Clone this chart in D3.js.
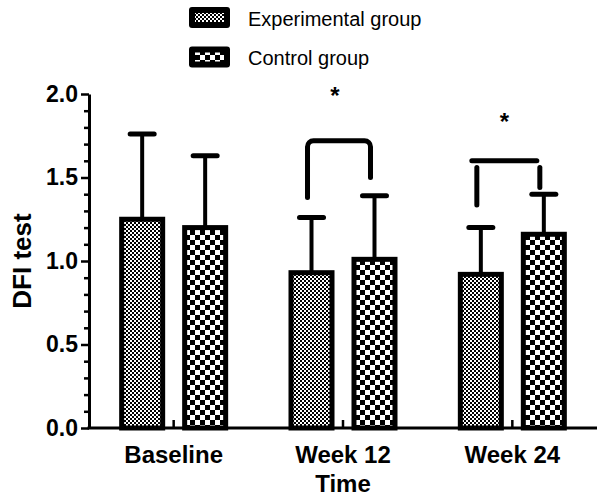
<!DOCTYPE html>
<html>
<head>
<meta charset="utf-8">
<script src="https://cdn.jsdelivr.net/npm/d3@7"></script>
<style>
  html, body { margin: 0; padding: 0; background: #fff; }
  svg { display: block; }
</style>
</head>
<body>
<svg id="chart" width="600" height="499"></svg>
<script>
// ---- data ----
const categories = ["Baseline", "Week 12", "Week 24"];
const seriesNames = ["Experimental group", "Control group"];
const expMeans = [1.25, 0.93, 0.92];
const expSD = [0.51, 0.33, 0.28];
const ctrlMeans = [1.20, 1.01, 1.16];
const ctrlSD = [0.43, 0.38, 0.24];
const yMajorTicks = [0.0, 0.5, 1.0, 1.5, 2.0];
const yMinorTicks = [0.1,0.2,0.3,0.4,0.6,0.7,0.8,0.9,1.1,1.2,1.3,1.4,1.6,1.7,1.8,1.9];
const yTitle = "DFI test";
const xTitle = "Time";
// significance brackets (value units)
const sigCategories = ["Week 12", "Week 24"];
const sigBarLevel = [1.72, 1.60];
const sigLegTop = [1.72, 1.56];
const sigLeftEnd = [1.38, 1.335];
const sigRightEnd = [1.50, 1.44];
const sigStarLevel = [2.02, 1.86];
const sigJoined = [true, false];

// ---- layout ----
const svg = d3.select("#chart");
const FONT = "'Liberation Sans', Arial, Helvetica, sans-serif";
const x = d3.scaleBand().domain(categories).range([89, 597]).padding(0);
const xSub = d3.scaleBand().domain(seriesNames).range([-52, 52]).paddingInner(0.349).paddingOuter(0);
const y = d3.scaleLinear().domain([0, 2]).range([428, 94]);
const cx = c => x(c) + x.bandwidth() / 2;
const barCenter = (c, s) => cx(c) + xSub(s) + xSub.bandwidth() / 2;

// patterns
const defs = svg.append("defs");
const p1 = defs.append("pattern").attr("id", "pExp").attr("patternUnits", "userSpaceOnUse")
  .attr("width", 4).attr("height", 4);
p1.append("rect").attr("width", 4).attr("height", 4).attr("fill", "#fff");
p1.append("rect").attr("x", 0).attr("y", 0).attr("width", 2).attr("height", 2).attr("fill", "#000");
p1.append("rect").attr("x", 2).attr("y", 2).attr("width", 2).attr("height", 2).attr("fill", "#000");
const p2 = defs.append("pattern").attr("id", "pCtrl").attr("patternUnits", "userSpaceOnUse")
  .attr("width", 10).attr("height", 10);
p2.append("rect").attr("width", 10).attr("height", 10).attr("fill", "#fff");
p2.append("rect").attr("x", 0).attr("y", 0).attr("width", 5).attr("height", 5).attr("fill", "#000");
p2.append("rect").attr("x", 5).attr("y", 5).attr("width", 5).attr("height", 5).attr("fill", "#000");
const fills = { "Experimental group": "url(#pExp)", "Control group": "url(#pCtrl)" };

const rows = [];
categories.forEach((c, i) => {
  rows.push({ c, s: seriesNames[0], m: expMeans[i], sd: expSD[i] });
  rows.push({ c, s: seriesNames[1], m: ctrlMeans[i], sd: ctrlSD[i] });
});

// error bars (upper only)
const eb = svg.append("g");
eb.selectAll("line.v").data(rows).join("line")
  .attr("x1", d => barCenter(d.c, d.s)).attr("x2", d => barCenter(d.c, d.s))
  .attr("y1", d => y(d.m)).attr("y2", d => y(d.m + d.sd))
  .attr("stroke", "#000").attr("stroke-width", 4);
eb.selectAll("line.cap").data(rows).join("line")
  .attr("x1", d => barCenter(d.c, d.s) - 12).attr("x2", d => barCenter(d.c, d.s) + 12)
  .attr("y1", d => y(d.m + d.sd)).attr("y2", d => y(d.m + d.sd))
  .attr("stroke", "#000").attr("stroke-width", 5).attr("stroke-linecap", "round");

// bars
svg.append("g").selectAll("rect").data(rows).join("rect")
  .attr("x", d => cx(d.c) + xSub(d.s))
  .attr("width", xSub.bandwidth())
  .attr("y", d => y(d.m))
  .attr("height", d => y(0) - y(d.m))
  .attr("fill", d => fills[d.s])
  .attr("stroke", "#000").attr("stroke-width", 5);

// axes
const yAxisMinor = svg.append("g").attr("transform", `translate(${x.range()[0]},0)`)
  .call(d3.axisLeft(y).tickValues(yMinorTicks).tickSize(5).tickFormat(""));
yAxisMinor.select(".domain").remove();
yAxisMinor.selectAll("line").attr("stroke-width", 2.5);

const yAxis = svg.append("g").attr("transform", `translate(${x.range()[0]},0)`)
  .call(d3.axisLeft(y).tickValues(yMajorTicks).tickSize(8).tickSizeOuter(0).tickPadding(3).tickFormat(d3.format(".1f")));
yAxis.select(".domain").attr("stroke-width", 3);
yAxis.selectAll("line").attr("stroke-width", 2.5);
yAxis.selectAll("text").attr("font-family", FONT).attr("font-size", 23).attr("font-weight", "bold").attr("fill", "#000");

const xAxis = svg.append("g").attr("transform", `translate(0,${y(0)})`)
  .call(d3.axisBottom(x).tickSize(0).tickPadding(18));
xAxis.select(".domain").attr("stroke-width", 3).attr("d", `M${x.range()[0] - 1.5},0H${x.range()[1]}`);
xAxis.selectAll("text").attr("font-family", FONT).attr("font-size", 24).attr("font-weight", "bold").attr("fill", "#000");

const xTicks = svg.append("g").attr("transform", `translate(0,${y(0)})`)
  .call(d3.axisTop(x).tickSize(8).tickFormat(""));
xTicks.select(".domain").remove();
xTicks.selectAll("line").attr("stroke-width", 2.5);

// axis titles
svg.append("text").attr("x", cx("Week 12")).attr("y", 492).attr("text-anchor", "middle")
  .attr("font-family", FONT).attr("font-size", 24).attr("font-weight", "bold").text(xTitle);
svg.append("text").attr("transform", `translate(31,${(y(0)+y(2))/2}) rotate(-90)`).attr("text-anchor", "middle")
  .attr("font-family", FONT).attr("font-size", 26).attr("font-weight", "bold").text(yTitle);

// significance brackets
const sg = svg.append("g").attr("fill", "none").attr("stroke", "#000").attr("stroke-width", 5).attr("stroke-linecap", "round");
sigCategories.forEach((c, i) => {
  const xl = barCenter(c, seriesNames[0]) - 4;
  const xr = barCenter(c, seriesNames[1]) - 4;
  const yb = y(sigBarLevel[i]);
  if (sigJoined[i]) {
    const p = d3.path();
    const r = 6;
    p.moveTo(xl, y(sigLeftEnd[i]));
    p.arcTo(xl, yb, xl + r, yb, r);
    p.arcTo(xr, yb, xr, yb + r, r);
    p.lineTo(xr, y(sigRightEnd[i]));
    sg.append("path").attr("d", p.toString());
  } else {
    sg.append("line").attr("x1", xl - 5).attr("x2", xr - 3).attr("y1", yb).attr("y2", yb);
    sg.append("line").attr("x1", xl).attr("x2", xl).attr("y1", y(sigLegTop[i])).attr("y2", y(sigLeftEnd[i]));
    sg.append("line").attr("x1", xr).attr("x2", xr).attr("y1", y(sigLegTop[i])).attr("y2", y(sigRightEnd[i]));
  }
  svg.append("text").attr("x", (xl + xr) / 2 - 4).attr("y", y(sigStarLevel[i]) + 13)
    .attr("text-anchor", "middle").attr("font-family", FONT).attr("font-size", 24).attr("font-weight", "bold")
    .text("*");
});

// legend
const lg = svg.append("g");
seriesNames.forEach((s, i) => {
  const top = 7 + i * 39.5;
  lg.append("rect").attr("x", 189).attr("y", top).attr("width", 41).attr("height", 21).attr("rx", 3).attr("fill", "#000");
  lg.append("rect").attr("x", 195).attr("y", top + 6).attr("width", 29).attr("height", 9).attr("fill", fills[s]);
  lg.append("text").attr("x", 248).attr("y", top + 18.5).attr("font-family", FONT).attr("font-size", 20)
    .attr("fill", "#000").text(s);
});
</script>
</body>
</html>
